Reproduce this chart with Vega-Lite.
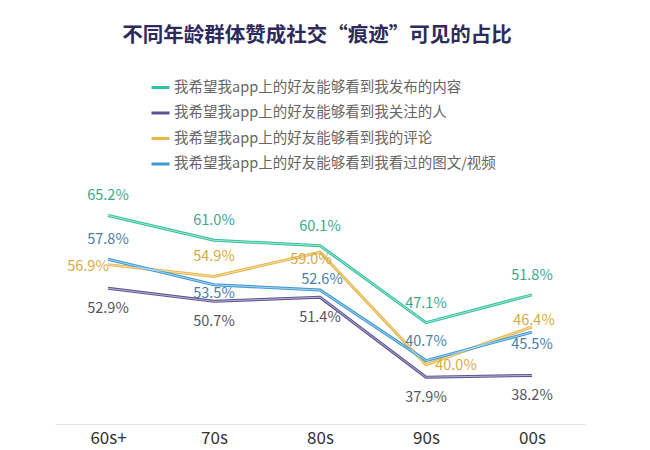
{
  "$schema": "https://vega.github.io/schema/vega-lite/v6.json",
  "width": 530,
  "height": 237,
  "autosize": {"type": "none"},
  "padding": {"left": 55, "top": 187, "right": 65, "bottom": 26},
  "background": "white",
  "config": {
    "font": "Noto Sans CJK SC",
    "view": {"stroke": null},
    "text": {"fontSize": 14.5, "baseline": "middle"}
  },
  "title": {
    "text": "不同年龄群体赞成社交“痕迹”可见的占比",
    "fontSize": 20.5,
    "fontWeight": "bold",
    "color": "#2e2a5c",
    "anchor": "middle",
    "frame": "group",
    "offset": 31,
    "dx": -3
  },
  "data": {
    "values": [
      {"age": "60s+", "series": "我希望我app上的好友能够看到我发布的内容", "value": 0.652},
      {"age": "70s", "series": "我希望我app上的好友能够看到我发布的内容", "value": 0.610},
      {"age": "80s", "series": "我希望我app上的好友能够看到我发布的内容", "value": 0.601},
      {"age": "90s", "series": "我希望我app上的好友能够看到我发布的内容", "value": 0.471},
      {"age": "00s", "series": "我希望我app上的好友能够看到我发布的内容", "value": 0.518},
      {"age": "60s+", "series": "我希望我app上的好友能够看到我关注的人", "value": 0.529},
      {"age": "70s", "series": "我希望我app上的好友能够看到我关注的人", "value": 0.507},
      {"age": "80s", "series": "我希望我app上的好友能够看到我关注的人", "value": 0.514},
      {"age": "90s", "series": "我希望我app上的好友能够看到我关注的人", "value": 0.379},
      {"age": "00s", "series": "我希望我app上的好友能够看到我关注的人", "value": 0.382},
      {"age": "60s+", "series": "我希望我app上的好友能够看到我的评论", "value": 0.569},
      {"age": "70s", "series": "我希望我app上的好友能够看到我的评论", "value": 0.549},
      {"age": "80s", "series": "我希望我app上的好友能够看到我的评论", "value": 0.590},
      {"age": "90s", "series": "我希望我app上的好友能够看到我的评论", "value": 0.400},
      {"age": "00s", "series": "我希望我app上的好友能够看到我的评论", "value": 0.464},
      {"age": "60s+", "series": "我希望我app上的好友能够看到我看过的图文/视频", "value": 0.578},
      {"age": "70s", "series": "我希望我app上的好友能够看到我看过的图文/视频", "value": 0.535},
      {"age": "80s", "series": "我希望我app上的好友能够看到我看过的图文/视频", "value": 0.526},
      {"age": "90s", "series": "我希望我app上的好友能够看到我看过的图文/视频", "value": 0.407},
      {"age": "00s", "series": "我希望我app上的好友能够看到我看过的图文/视频", "value": 0.455}
    ]
  },
  "encoding": {
    "x": {
      "field": "age",
      "type": "ordinal",
      "sort": ["60s+", "70s", "80s", "90s", "00s"],
      "scale": {"type": "point", "padding": 0.5},
      "axis": {
        "title": null,
        "ticks": false,
        "grid": false,
        "domain": true,
        "domainColor": "#e3e3e3",
        "domainWidth": 1,
        "labelAngle": 0,
        "labelFontSize": 17,
        "labelColor": "#333333",
        "labelPadding": 6,
        "labelBaseline": "top"
      }
    },
    "y": {
      "field": "value",
      "type": "quantitative",
      "scale": {"domain": [0.30, 0.70], "zero": false, "nice": false},
      "axis": null
    }
  },
  "layer": [
    {
      "mark": {"type": "line", "strokeWidth": 3},
      "encoding": {
        "color": {
          "field": "series",
          "type": "nominal",
          "sort": [
            "我希望我app上的好友能够看到我发布的内容",
            "我希望我app上的好友能够看到我关注的人",
            "我希望我app上的好友能够看到我的评论",
            "我希望我app上的好友能够看到我看过的图文/视频"
          ],
          "scale": {
            "domain": [
              "我希望我app上的好友能够看到我发布的内容",
              "我希望我app上的好友能够看到我关注的人",
              "我希望我app上的好友能够看到我的评论",
              "我希望我app上的好友能够看到我看过的图文/视频"
            ],
            "range": ["#33c29f", "#5b5394", "#e6b64a", "#3d9ad1"]
          },
          "legend": {
            "title": null,
            "orient": "none",
            "legendX": 95,
            "legendY": -110,
            "padding": 0,
            "symbolType": "stroke",
            "symbolSize": 324,
            "symbolStrokeWidth": 3,
            "rowPadding": 8.5,
            "labelOffset": 3,
            "labelFontSize": 14.5,
            "labelColor": "#666666",
            "labelLimit": 400
          }
        }
      }
    },
    {
      "mark": {"type": "line", "strokeWidth": 0.8, "color": "white", "opacity": 0.7},
      "encoding": {"detail": {"field": "series", "type": "nominal"}}
    },
    {
      "transform": [{"filter": "indexof([0.652, 0.610, 0.601, 0.471, 0.518, 0.578, 0.549, 0.407], datum.value) >= 0"}],
      "mark": {"type": "text", "dy": -19},
      "encoding": {
        "text": {"field": "value", "type": "quantitative", "format": ".1%"},
        "color": {"field": "series", "type": "nominal", "legend": null,
          "scale": {"domain": ["我希望我app上的好友能够看到我发布的内容", "我希望我app上的好友能够看到我关注的人", "我希望我app上的好友能够看到我的评论", "我希望我app上的好友能够看到我看过的图文/视频"], "range": ["#3aa890", "#55555f", "#d8aa45", "#4a7fa6"]}}
      }
    },
    {
      "transform": [{"filter": "datum.value == 0.526"}],
      "mark": {"type": "text", "dx": 2, "dy": -10},
      "encoding": {
        "text": {"field": "value", "type": "quantitative", "format": ".1%"},
        "color": {"field": "series", "type": "nominal", "legend": null,
          "scale": {"domain": ["我希望我app上的好友能够看到我发布的内容", "我希望我app上的好友能够看到我关注的人", "我希望我app上的好友能够看到我的评论", "我希望我app上的好友能够看到我看过的图文/视频"], "range": ["#3aa890", "#55555f", "#d8aa45", "#4a7fa6"]}}
      }
    },
    {
      "transform": [{"filter": "indexof([0.529, 0.507, 0.514, 0.379, 0.382], datum.value) >= 0"}],
      "mark": {"type": "text", "dy": 21},
      "encoding": {
        "text": {"field": "value", "type": "quantitative", "format": ".1%"},
        "color": {"field": "series", "type": "nominal", "legend": null,
          "scale": {"domain": ["我希望我app上的好友能够看到我发布的内容", "我希望我app上的好友能够看到我关注的人", "我希望我app上的好友能够看到我的评论", "我希望我app上的好友能够看到我看过的图文/视频"], "range": ["#3aa890", "#55555f", "#d8aa45", "#4a7fa6"]}}
      }
    },
    {
      "transform": [{"filter": "datum.value == 0.535"}],
      "mark": {"type": "text", "dy": 9},
      "encoding": {
        "text": {"field": "value", "type": "quantitative", "format": ".1%"},
        "color": {"field": "series", "type": "nominal", "legend": null,
          "scale": {"domain": ["我希望我app上的好友能够看到我发布的内容", "我希望我app上的好友能够看到我关注的人", "我希望我app上的好友能够看到我的评论", "我希望我app上的好友能够看到我看过的图文/视频"], "range": ["#3aa890", "#55555f", "#d8aa45", "#4a7fa6"]}}
      }
    },
    {
      "transform": [{"filter": "datum.value == 0.455"}],
      "mark": {"type": "text", "dy": 13},
      "encoding": {
        "text": {"field": "value", "type": "quantitative", "format": ".1%"},
        "color": {"field": "series", "type": "nominal", "legend": null,
          "scale": {"domain": ["我希望我app上的好友能够看到我发布的内容", "我希望我app上的好友能够看到我关注的人", "我希望我app上的好友能够看到我的评论", "我希望我app上的好友能够看到我看过的图文/视频"], "range": ["#3aa890", "#55555f", "#d8aa45", "#4a7fa6"]}}
      }
    },
    {
      "transform": [{"filter": "datum.value == 0.590"}],
      "mark": {"type": "text", "dx": -9, "dy": 8},
      "encoding": {
        "text": {"field": "value", "type": "quantitative", "format": ".1%"},
        "color": {"field": "series", "type": "nominal", "legend": null,
          "scale": {"domain": ["我希望我app上的好友能够看到我发布的内容", "我希望我app上的好友能够看到我关注的人", "我希望我app上的好友能够看到我的评论", "我希望我app上的好友能够看到我看过的图文/视频"], "range": ["#3aa890", "#55555f", "#d8aa45", "#4a7fa6"]}}
      }
    },
    {
      "transform": [{"filter": "datum.value == 0.569"}],
      "mark": {"type": "text", "dx": -20, "dy": 2},
      "encoding": {
        "text": {"field": "value", "type": "quantitative", "format": ".1%"},
        "color": {"field": "series", "type": "nominal", "legend": null,
          "scale": {"domain": ["我希望我app上的好友能够看到我发布的内容", "我希望我app上的好友能够看到我关注的人", "我希望我app上的好友能够看到我的评论", "我希望我app上的好友能够看到我看过的图文/视频"], "range": ["#3aa890", "#55555f", "#d8aa45", "#4a7fa6"]}}
      }
    },
    {
      "transform": [{"filter": "datum.value == 0.400"}],
      "mark": {"type": "text", "dx": 30, "dy": 1},
      "encoding": {
        "text": {"field": "value", "type": "quantitative", "format": ".1%"},
        "color": {"field": "series", "type": "nominal", "legend": null,
          "scale": {"domain": ["我希望我app上的好友能够看到我发布的内容", "我希望我app上的好友能够看到我关注的人", "我希望我app上的好友能够看到我的评论", "我希望我app上的好友能够看到我看过的图文/视频"], "range": ["#3aa890", "#55555f", "#d8aa45", "#4a7fa6"]}}
      }
    },
    {
      "transform": [{"filter": "datum.value == 0.464"}],
      "mark": {"type": "text", "dx": 2, "dy": -6},
      "encoding": {
        "text": {"field": "value", "type": "quantitative", "format": ".1%"},
        "color": {"field": "series", "type": "nominal", "legend": null,
          "scale": {"domain": ["我希望我app上的好友能够看到我发布的内容", "我希望我app上的好友能够看到我关注的人", "我希望我app上的好友能够看到我的评论", "我希望我app上的好友能够看到我看过的图文/视频"], "range": ["#3aa890", "#55555f", "#d8aa45", "#4a7fa6"]}}
      }
    }
  ],
  "resolve": {"scale": {"color": "independent"}}
}
